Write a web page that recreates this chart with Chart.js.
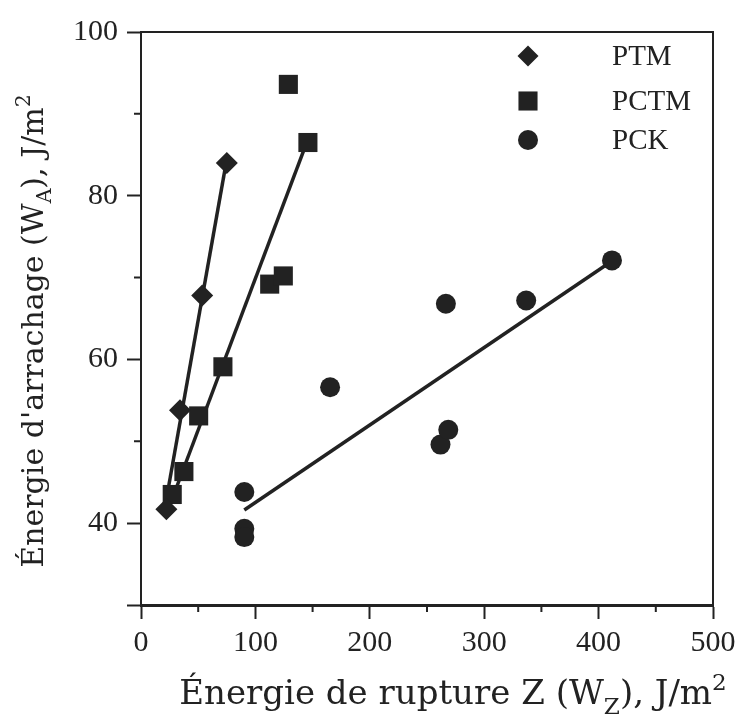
<!DOCTYPE html>
<html>
<head>
<meta charset="utf-8">
<script src="https://cdn.jsdelivr.net/npm/chart.js@4.4.0/dist/chart.umd.min.js"></script>
<style>
  html, body { margin: 0; padding: 0; background: #fff; }
</style>
</head>
<body>
<canvas id="myChart" width="742" height="717"></canvas>
<script>
// data
const ptmX = [22.2, 34.1, 53.5, 75];
const ptmY = [41.7, 53.8, 67.8, 84];
const pctmX = [27.3, 37.5, 50.4, 71.6, 112.5, 124.4, 128.8, 145.9];
const pctmY = [43.5, 46.3, 53.1, 59.1, 69.2, 70.2, 93.6, 86.5];
const pckX = [90.3, 90.3, 90.3, 165.3, 266.5, 261.8, 268.6, 336.7, 411.7];
const pckY = [43.8, 39.3, 38.3, 56.6, 66.8, 49.6, 51.4, 67.2, 72.1];
const seriesNames = ["PTM", "PCTM", "PCK"];
const xTickLabels = [0, 100, 200, 300, 400, 500];
const yTickLabels = [40, 60, 80, 100];

const ink = "#222222";
const tickFont = { family: "'Liberation Serif', serif", size: 30 };
const titleFamily = "'DejaVu Serif', serif";

function toPoints(xs, ys) {
  return xs.map((x, i) => ({ x: x, y: ys[i] }));
}

// least squares line, drawn from smallest to largest x
function fitLine(xs, ys) {
  const n = xs.length;
  const mx = xs.reduce((a, b) => a + b, 0) / n;
  const my = ys.reduce((a, b) => a + b, 0) / n;
  let sxy = 0, sxx = 0;
  xs.forEach((x, i) => {
    sxy += (x - mx) * (ys[i] - my);
    sxx += (x - mx) * (x - mx);
  });
  const b = sxy / sxx;
  const a = my - b * mx;
  const x0 = Math.min(...xs), x1 = Math.max(...xs);
  return [{ x: x0, y: a + b * x0 }, { x: x1, y: a + b * x1 }];
}

function markers(label, xs, ys, style, radius) {
  return {
    label: label,
    data: toPoints(xs, ys),
    pointStyle: style,
    pointRadius: radius,
    pointHoverRadius: radius,
    backgroundColor: ink,
    borderWidth: 0,
    showLine: false,
    order: 0,
  };
}

function fit(xs, ys) {
  return {
    label: "",
    data: fitLine(xs, ys),
    showLine: true,
    borderColor: ink,
    borderWidth: 3.5,
    pointRadius: 0,
    order: 1,
  };
}

const pointStyles = ["rectRot", "rect", "circle"];
const pointSizes = [11, 13.5, 10];

// text with sub / superscripts
function drawRich(ctx, parts, cx, baseline, size) {
  let total = 0;
  parts.forEach((p) => {
    ctx.font = `${p.sub || p.sup ? size * 0.68 : size}px ${titleFamily}`;
    p.w = ctx.measureText(p.t).width;
    total += p.w;
  });
  let x = cx - total / 2;
  ctx.textAlign = "left";
  ctx.textBaseline = "alphabetic";
  parts.forEach((p) => {
    ctx.font = `${p.sub || p.sup ? size * 0.68 : size}px ${titleFamily}`;
    const dy = p.sub ? size * 0.28 : p.sup ? -size * 0.42 : 0;
    ctx.fillText(p.t, x, baseline + dy);
    x += p.w;
  });
}

const decorations = {
  id: "decorations",
  afterDraw(chart) {
    const ctx = chart.ctx;
    const area = chart.chartArea;
    const xs = chart.scales.x, ys = chart.scales.y;
    ctx.save();
    ctx.fillStyle = ink;
    ctx.strokeStyle = ink;

    // frame top and right
    ctx.lineWidth = 2;
    ctx.beginPath();
    ctx.moveTo(area.left, area.top);
    ctx.lineTo(area.right, area.top);
    ctx.lineTo(area.right, area.bottom);
    ctx.stroke();

    // minor ticks
    ctx.beginPath();
    for (let v = 50; v < 500; v += 100) {
      const px = xs.getPixelForValue(v);
      ctx.moveTo(px, area.bottom);
      ctx.lineTo(px, area.bottom + 7);
    }
    for (let v = 50; v < 100; v += 20) {
      const py = ys.getPixelForValue(v);
      ctx.moveTo(area.left, py);
      ctx.lineTo(area.left - 7, py);
    }
    ctx.stroke();

    // legend inside the plot
    const rowY = [24, 69, 108];
    const legendSizes = [10.5, 13.5, 10];
    seriesNames.forEach((name, i) => {
      const y = area.top + rowY[i];
      Chart.helpers.drawPoint(ctx, {
        pointStyle: pointStyles[i],
        radius: legendSizes[i],
        rotation: 0,
        borderWidth: 0,
      }, area.right - 185, y);
      ctx.font = `29px ${tickFont.family}`;
      ctx.textAlign = "left";
      ctx.textBaseline = "middle";
      ctx.fillText(name, area.right - 101, y + 1);
    });

    // axis titles
    drawRich(ctx, [
      { t: "Énergie de rupture Z (W" },
      { t: "Z", sub: true },
      { t: "), J/m" },
      { t: "2", sup: true },
    ], 453, 704, 34);

    ctx.translate(43, 331);
    ctx.rotate(-Math.PI / 2);
    drawRich(ctx, [
      { t: "Énergie d'arrachage (W" },
      { t: "A", sub: true },
      { t: "), J/m" },
      { t: "2", sup: true },
    ], 0, 0, 30);
    ctx.restore();
  },
};

const config = {
  type: "scatter",
  data: {
    datasets: [
      markers(seriesNames[0], ptmX, ptmY, pointStyles[0], pointSizes[0]),
      markers(seriesNames[1], pctmX, pctmY, pointStyles[1], pointSizes[1]),
      markers(seriesNames[2], pckX, pckY, pointStyles[2], pointSizes[2]),
      fit(ptmX, ptmY),
      fit(pctmX, pctmY),
      fit(pckX, pckY),
    ],
  },
  options: {
    responsive: false,
    animation: false,
    devicePixelRatio: 1,
    layout: { padding: { top: 32, right: 29, left: 0, bottom: 0 } },
    plugins: {
      legend: { display: false },
      tooltip: { enabled: false },
    },
    scales: {
      x: {
        type: "linear",
        min: 0,
        max: 500,
        afterFit: (s) => { s.height = 112; },
        ticks: {
          stepSize: 50,
          autoSkip: false,
          maxRotation: 0,
          color: ink,
          font: tickFont,
          padding: 6,
          callback: (v) => (xTickLabels.includes(v) ? v : ""),
        },
        grid: {
          drawOnChartArea: false,
          tickLength: 14,
          tickWidth: 2,
          tickColor: (c) => (c.tick && c.tick.value % 100 === 0 ? ink : "rgba(0,0,0,0)"),
        },
        border: { color: ink, width: 3 },
      },
      y: {
        type: "linear",
        min: 30,
        max: 100,
        afterFit: (s) => { s.width = 141; },
        ticks: {
          stepSize: 10,
          autoSkip: false,
          color: ink,
          font: tickFont,
          padding: 9,
          callback: (v) => (yTickLabels.includes(v) ? v : ""),
        },
        grid: {
          drawOnChartArea: false,
          tickLength: 14,
          tickWidth: 2,
          tickColor: (c) => (c.tick && (c.tick.value % 20 === 0 || c.tick.value === 30) ? ink : "rgba(0,0,0,0)"),
        },
        border: { color: ink, width: 2 },
      },
    },
  },
  plugins: [decorations],
};

const myChart = new Chart(document.getElementById("myChart"), config);
</script>
</body>
</html>
